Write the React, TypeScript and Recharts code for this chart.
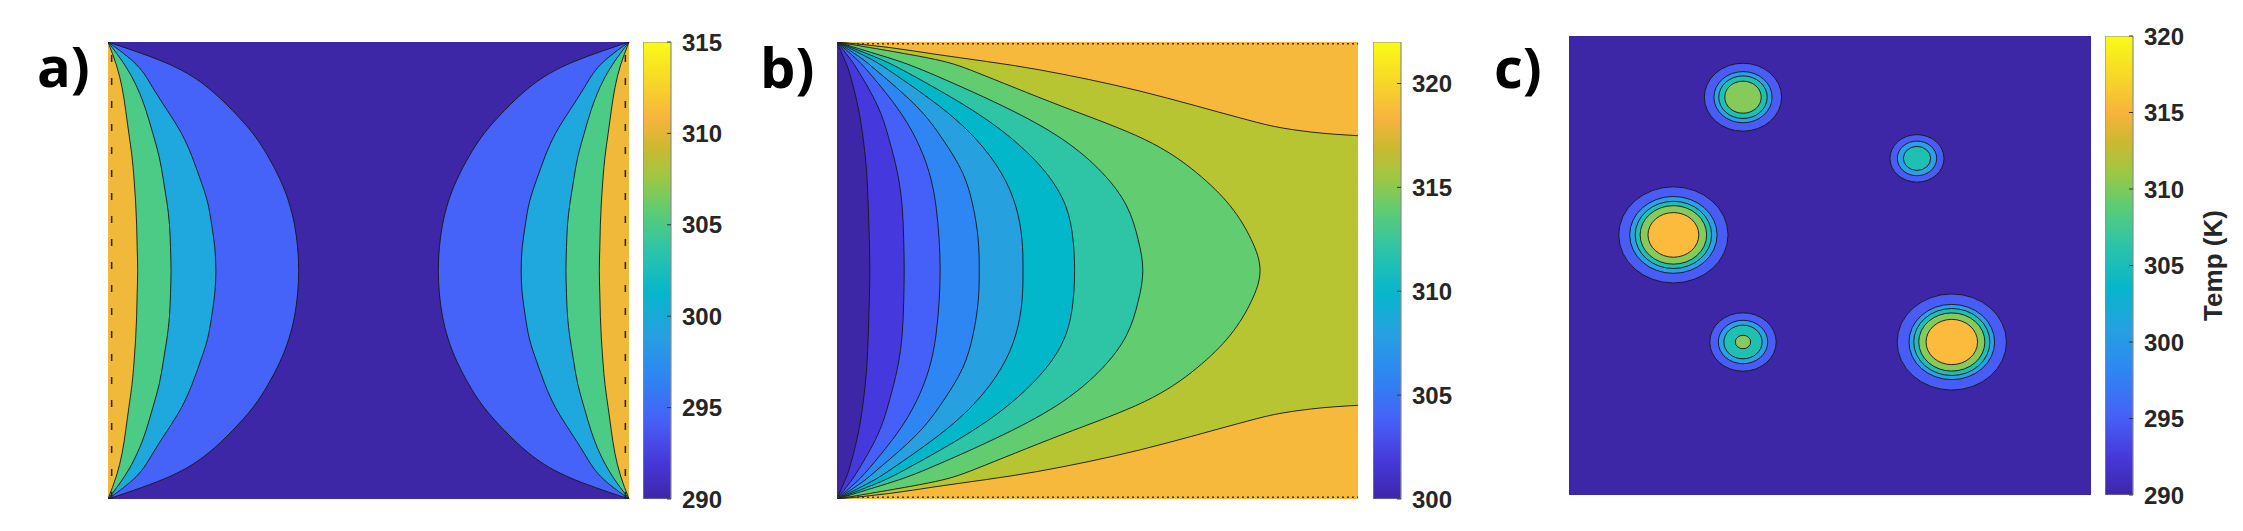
import React from "react";
import {
  AreaChart, Area, XAxis, YAxis, CartesianGrid, ReferenceLine,
  ScatterChart, Scatter, BarChart, Bar,
} from "recharts";

// ---------- panel a: contour boundaries (x as fraction of width, sampled down the height)
const tA = [0, 0.05, 0.1, 0.15, 0.2, 0.25, 0.3, 0.35, 0.4, 0.45, 0.5, 0.55, 0.6, 0.65, 0.7, 0.75, 0.8, 0.85, 0.9, 0.95, 1];
const a295 = [0, 0.12, 0.192, 0.239, 0.278, 0.307, 0.33, 0.347, 0.358, 0.364, 0.366, 0.364, 0.358, 0.347, 0.33, 0.307, 0.278, 0.239, 0.192, 0.12, 0];
const a300 = [0, 0.055, 0.086, 0.114, 0.141, 0.161, 0.177, 0.191, 0.199, 0.205, 0.207, 0.205, 0.199, 0.191, 0.177, 0.161, 0.141, 0.114, 0.086, 0.055, 0];
const a305 = [0, 0.032, 0.056, 0.073, 0.086, 0.098, 0.106, 0.113, 0.118, 0.12, 0.121, 0.12, 0.118, 0.113, 0.106, 0.098, 0.086, 0.073, 0.056, 0.032, 0];
const a310 = [0, 0.016, 0.027, 0.034, 0.04, 0.046, 0.05, 0.053, 0.055, 0.056, 0.057, 0.056, 0.055, 0.053, 0.05, 0.046, 0.04, 0.034, 0.027, 0.016, 0];
const aXTicks = [0.26, 0.52, 0.78];
const aYTicks = [0.072, 0.258, 0.444, 0.63, 0.816];

// ---------- panel b
const tB = [0, 0.035, 0.0675, 0.14, 0.213, 0.286, 0.359, 0.432, 0.5, 0.568, 0.641, 0.714, 0.787, 0.86, 0.9325, 0.965, 1];
const b302 = [0, 0.013, 0.024, 0.04, 0.0505, 0.057, 0.06, 0.062, 0.063, 0.062, 0.06, 0.057, 0.0505, 0.04, 0.024, 0.013, 0];
const b304 = [0, 0.024, 0.043, 0.078, 0.1, 0.116, 0.125, 0.128, 0.129, 0.128, 0.125, 0.116, 0.1, 0.078, 0.043, 0.024, 0];
const b306 = [0, 0.035, 0.062, 0.113, 0.152, 0.177, 0.19, 0.196, 0.198, 0.196, 0.19, 0.177, 0.152, 0.113, 0.062, 0.035, 0];
const b308 = [0, 0.046, 0.081, 0.152, 0.203, 0.241, 0.261, 0.271, 0.273, 0.271, 0.261, 0.241, 0.203, 0.152, 0.081, 0.046, 0];
const b310 = [0, 0.061, 0.107, 0.196, 0.267, 0.315, 0.343, 0.355, 0.357, 0.355, 0.343, 0.315, 0.267, 0.196, 0.107, 0.061, 0];
const b312 = [0, 0.078, 0.136, 0.247, 0.337, 0.401, 0.439, 0.453, 0.456, 0.453, 0.439, 0.401, 0.337, 0.247, 0.136, 0.078, 0];
const b314 = [0, 0.1, 0.177, 0.318, 0.433, 0.509, 0.556, 0.578, 0.587, 0.578, 0.556, 0.509, 0.433, 0.318, 0.177, 0.1, 0];
const b316 = [0, 0.175, 0.27, 0.43, 0.59, 0.69, 0.755, 0.795, 0.812, 0.795, 0.755, 0.69, 0.59, 0.43, 0.27, 0.175, 0];
// the 318 contour runs from the corner to the right edge (depth from top/bottom edge vs x)
const bX318 = [0, 0.1, 0.19, 0.384, 0.58, 0.69, 0.77, 0.84, 0.91, 1];
const bT318 = [0, 0.012, 0.027, 0.06, 0.107, 0.14, 0.165, 0.185, 0.197, 0.205];
const bXTicks = [1 / 6, 2 / 6, 3 / 6, 4 / 6, 5 / 6];
const bYTicks = [0.25, 0.5, 0.75];

// ---------- panel c: hot spots, radius of each contour ring
const spotX = [2.5, 5.0, 1.5, 2.5, 5.5];
const spotY = [6.5, 5.5, 4.25, 2.5, 2.5];
const r295 = [0.555, 0.388, 0.785, 0.477, 0.785];
const r300 = [0.418, 0.283, 0.628, 0.355, 0.615];
const r305 = [0.348, 0.196, 0.549, 0.275, 0.547];
const r310 = [0.262, null, 0.478, 0.11, 0.475];
const r315 = [null, null, 0.365, null, 0.37];
const cTicks = [0.5, 1.5, 2.5, 3.5, 4.5, 5.5, 6.5];

// ---------- colorbars
const cbA = [290, 295, 300, 305, 310, 315];
const cbB = [300, 305, 310, 315, 320];
const cbC = [290, 295, 300, 305, 310, 315, 320];

const parula = [
  [0, "#3E26A8"], [0.08, "#4638D8"], [0.17, "#4660F7"], [0.27, "#2E86F2"],
  [0.36, "#26A0E1"], [0.45, "#06B6CB"], [0.55, "#2EC5A6"], [0.63, "#5CCC73"],
  [0.7, "#9BC844"], [0.77, "#CCB930"], [0.83, "#F6B33D"], [0.9, "#F6D22B"], [1, "#F9FB15"],
];

const DARK = "#3D27A7";
const ORANGE = "#F7B93B";
const FONT = "'Liberation Sans', Arial, sans-serif";
const A = { left: 108, top: 42, w: 521, h: 457 };
const B = { left: 837, top: 42, w: 521, h: 457 };
const C = { left: 1569, top: 36, w: 522, h: 459 };

const rowsA = tA.map((t, i) => ({ t, a295: a295[i], a300: a300[i], a305: a305[i], a310: a310[i] }));
const rowsB = tB.map((t, i) => ({
  t, b302: b302[i], b304: b304[i], b306: b306[i], b308: b308[i],
  b310: b310[i], b312: b312[i], b314: b314[i], b316: b316[i],
}));
const rowsB318 = bX318.map((x, i) => ({ x, t: bT318[i] }));

const ring = (r: (number | null)[]) =>
  spotX.map((x, i) => ({ x, y: spotY[i], r: r[i] })).filter((d) => d.r != null);

const axisLine = { stroke: "#8c8c8c", strokeWidth: 1.5 };
const tickLine = { stroke: "#4a4a4a", strokeWidth: 1 };
const blank = () => "";

const frame = (xTicks: number[], yTicks: number[], dom: number[], xKey?: string, yKey?: string) => [
  <XAxis key="bx" xAxisId="bx" type="number" dataKey={xKey} domain={dom} ticks={xTicks} orientation="bottom" mirror height={0}
    tickSize={5} tickFormatter={blank} axisLine={axisLine} tickLine={tickLine} interval={0} allowDataOverflow />,
  <XAxis key="tx" xAxisId="tx" type="number" domain={dom} ticks={xTicks} orientation="top" mirror height={0}
    tickSize={5} tickFormatter={blank} axisLine={axisLine} tickLine={tickLine} interval={0} allowDataOverflow />,
  <YAxis key="ly" yAxisId="ly" type="number" dataKey={yKey} domain={dom} ticks={yTicks} orientation="left" mirror width={0}
    tickSize={5} tickFormatter={blank} axisLine={axisLine} tickLine={tickLine} interval={0} allowDataOverflow />,
  <YAxis key="ry" yAxisId="ry" type="number" domain={dom} ticks={yTicks} orientation="right" mirror width={0}
    tickSize={5} tickFormatter={blank} axisLine={axisLine} tickLine={tickLine} interval={0} allowDataOverflow />,
];

const band = (key: string, fill: string, xId = "bx") => (
  <Area key={key + xId} dataKey={key} xAxisId={xId} yAxisId="ly" type="natural"
    fill={fill} fillOpacity={1} stroke="#151515" strokeWidth={0.9} dot={false} activeDot={false}
    isAnimationActive={false} />
);

const place = (p: { left: number; top: number }) => ({ position: "absolute" as const, left: p.left - 10, top: p.top - 10 });
const M = { top: 10, right: 10, bottom: 10, left: 10 };

function PanelA() {
  return (
    <div style={place(A)}>
      <AreaChart layout="vertical" width={A.w + 20} height={A.h + 20} data={rowsA} margin={M}>
        <CartesianGrid xAxisId="bx" yAxisId="ly" fill={DARK} stroke="none" horizontal={false} vertical={false} />
        {frame(aXTicks, aYTicks, [0, 1], undefined, "t")}
        <XAxis xAxisId="rx" type="number" domain={[0, 1]} reversed hide />
        {band("a295", "#4563F8")}
        {band("a300", "#1EA8DE")}
        {band("a305", "#4CCB87")}
        {band("a310", "#F1B93A")}
        {band("a295", "#4563F8", "rx")}
        {band("a300", "#1EA8DE", "rx")}
        {band("a305", "#4CCB87", "rx")}
        {band("a310", "#F1B93A", "rx")}
        <ReferenceLine xAxisId="bx" yAxisId="ly" x={0.007} stroke="#222" strokeWidth={1.5} strokeDasharray="7 16" />
        <ReferenceLine xAxisId="bx" yAxisId="ly" x={0.993} stroke="#222" strokeWidth={1.5} strokeDasharray="7 16" />
      </AreaChart>
    </div>
  );
}

function PanelB() {
  return (
    <>
      <div style={place(B)}>
        <AreaChart layout="vertical" width={B.w + 20} height={B.h + 20} data={rowsB} margin={M}>
          <CartesianGrid xAxisId="bx" yAxisId="ly" fill="#B8C532" stroke="none" horizontal={false} vertical={false} />
          <XAxis xAxisId="bx" type="number" domain={[0, 1]} hide allowDataOverflow />
          <YAxis yAxisId="ly" type="number" dataKey="t" domain={[0, 1]} hide allowDataOverflow />
          {band("b316", "#62CD70")}
          {band("b314", "#2EC5A7")}
          {band("b312", "#03B7CB")}
          {band("b310", "#27A0E0")}
          {band("b308", "#2E86F3")}
          {band("b306", "#4560F8")}
          {band("b304", "#4539DE")}
          {band("b302", DARK)}
        </AreaChart>
      </div>
      <div style={place(B)}>
        <AreaChart width={B.w + 20} height={B.h + 20} data={rowsB318} margin={M}>
          {frame(bXTicks, bYTicks, [0, 1], "x", undefined)}
          <YAxis yAxisId="down" type="number" domain={[0, 1]} reversed hide allowDataOverflow />
          <YAxis yAxisId="up" type="number" domain={[0, 1]} hide allowDataOverflow />
          <Area dataKey="t" xAxisId="bx" yAxisId="down" type="monotoneX" fill={ORANGE} fillOpacity={1}
            stroke="#151515" strokeWidth={0.9} dot={false} activeDot={false} isAnimationActive={false} />
          <Area dataKey="t" xAxisId="bx" yAxisId="up" type="monotoneX" fill={ORANGE} fillOpacity={1}
            stroke="#151515" strokeWidth={0.9} dot={false} activeDot={false} isAnimationActive={false} />
          <ReferenceLine xAxisId="bx" yAxisId="down" y={0.004} stroke="#333" strokeWidth={1.5} strokeDasharray="2 3" />
          <ReferenceLine xAxisId="bx" yAxisId="up" y={0.004} stroke="#333" strokeWidth={1.5} strokeDasharray="2 3" />
        </AreaChart>
      </div>
    </>
  );
}

const PX = C.w / 7.5;
const PY = C.h / 7.5;
const Ring = (fill: string) => (p: any) => (
  <ellipse cx={p.cx} cy={p.cy} rx={p.payload.r * PX} ry={p.payload.r * PY} fill={fill} stroke="#151515" strokeWidth={0.9} />
);

function PanelC() {
  return (
    <div style={place(C)}>
      <ScatterChart width={C.w + 20} height={C.h + 20} margin={M}>
        <CartesianGrid xAxisId="bx" yAxisId="ly" fill={DARK} stroke="none" horizontal={false} vertical={false} />
        {frame(cTicks, cTicks, [0, 7.5], "x", "y")}
        <Scatter xAxisId="bx" yAxisId="ly" data={ring(r295)} shape={Ring("#4A5CF6")} isAnimationActive={false} />
        <Scatter xAxisId="bx" yAxisId="ly" data={ring(r300)} shape={Ring("#2B9FEA")} isAnimationActive={false} />
        <Scatter xAxisId="bx" yAxisId="ly" data={ring(r305)} shape={Ring("#1FBFB2")} isAnimationActive={false} />
        <Scatter xAxisId="bx" yAxisId="ly" data={ring(r310)} shape={Ring("#86CA5B")} isAnimationActive={false} />
        <Scatter xAxisId="bx" yAxisId="ly" data={ring(r315)} shape={Ring("#FCBB3C")} isAnimationActive={false} />
      </ScatterChart>
    </div>
  );
}

const CbTick = (p: any) => (
  <g>
    <line x1={p.x - 4} x2={p.x} y1={p.y} y2={p.y} stroke="#333" strokeWidth={1} />
    <text x={p.x + 11} y={p.y} dy="0.36em" fontFamily={FONT} fontWeight={700} fontSize={24} fill="#262626">
      {p.payload.value}
    </text>
  </g>
);

function ColorBar(props: { id: string; left: number; top: number; h: number; ticks: number[]; max?: number; axisW: number; label?: string }) {
  const { id, left, top, h, ticks, axisW, label } = props;
  const min = ticks[0];
  const max = props.max ?? ticks[ticks.length - 1];
  return (
    <div style={{ position: "absolute", left, top: top - 20 }}>
      <BarChart width={28 + axisW} height={h + 40} data={[{ k: "cb", v: [min, max] }]}
        margin={{ top: 20, bottom: 20, left: 0, right: 0 }} barCategoryGap={0}>
        <defs>
          <linearGradient id={id} x1="0" y1="1" x2="0" y2="0">
            {parula.map(([o, c]) => <stop key={String(o)} offset={Number(o)} stopColor={String(c)} />)}
          </linearGradient>
        </defs>
        <XAxis dataKey="k" hide />
        <YAxis orientation="right" type="number" domain={[min, max]} ticks={ticks} width={axisW} interval={0}
          tickLine={false} axisLine={false} tickSize={0} tickMargin={0} tick={CbTick} allowDataOverflow
          label={label ? { value: label, angle: -90, position: "center", fontFamily: FONT, fontWeight: 700, fontSize: 26, fill: "#262626" } : undefined} />
        <Bar dataKey="v" fill={`url(#${id})`} stroke="#8c8c8c" strokeWidth={1.2} isAnimationActive={false} />
      </BarChart>
    </div>
  );
}

export default function App() {
  return (
    <div style={{ position: "absolute", left: 0, top: 0, width: 2243, height: 531, overflow: "hidden", background: "#fff" }}>
      <PanelA />
      <ColorBar id="cbA" left={643} top={A.top} h={A.h} ticks={cbA} axisW={70} />
      <PanelB />
      <ColorBar id="cbB" left={1372.5} top={B.top} h={B.h} ticks={cbB} max={322} axisW={70} />
      <PanelC />
      <ColorBar id="cbC" left={2104.5} top={C.top} h={C.h} ticks={cbC} axisW={160} label="Temp (K)" />
      <svg width={2243} height={531} style={{ position: "absolute", left: 0, top: 0, pointerEvents: "none" }}>
        <g fontFamily="'Open Sans', sans-serif" fontWeight={700} fontSize={56} fill="#000">
          <text x={37} y={87}>a)</text>
          <text x={760} y={88}>b)</text>
          <text x={1494} y={88}>c)</text>
        </g>
      </svg>
    </div>
  );
}
